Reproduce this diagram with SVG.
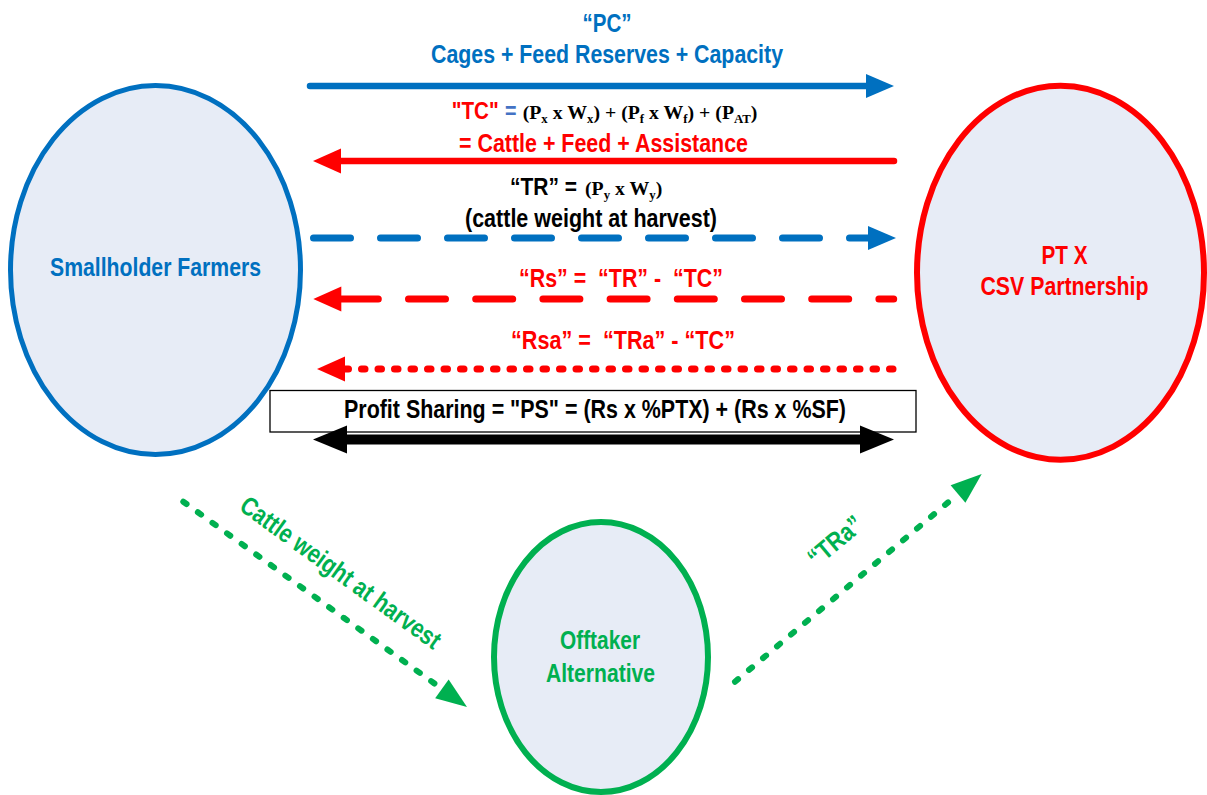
<svg xmlns="http://www.w3.org/2000/svg" width="1207" height="795" viewBox="0 0 1207 795">
  <style>
    .node { fill: #E7ECF6; }
    .t { font-family: "Liberation Sans Narrow", "Liberation Sans", Arial, sans-serif; font-weight: bold; font-size: 26px; }
    .ts { font-size: 23px; }
    .tm { font-family: "Liberation Serif", "Times New Roman", serif; font-weight: bold; font-size: 19.8px; fill: #000; }
    .blue { fill: #0070C0; }
    .red { fill: #FF0000; }
    .green { fill: #00B050; }
    .black { fill: #000000; }
    .conn { fill: none; stroke-linecap: round; }
  </style>
  <defs>
    <marker id="hBlue" markerUnits="userSpaceOnUse" markerWidth="40" markerHeight="40" refX="0" refY="0" orient="auto" overflow="visible">
      <path d="M0,-12 L28,0 L0,12 z" fill="#0070C0"/>
    </marker>
    <marker id="hRed" markerUnits="userSpaceOnUse" markerWidth="40" markerHeight="40" refX="0" refY="0" orient="auto-start-reverse" overflow="visible">
      <path d="M0,-12.5 L28,0 L0,12.5 z" fill="#FF0000"/>
    </marker>
    <marker id="hBlack" markerUnits="userSpaceOnUse" markerWidth="40" markerHeight="40" refX="0" refY="0" orient="auto-start-reverse" overflow="visible">
      <path d="M0,-14 L34,0 L0,14 z" fill="#000000"/>
    </marker>
    <marker id="hGreen" markerUnits="userSpaceOnUse" markerWidth="40" markerHeight="40" refX="0" refY="0" orient="auto" overflow="visible">
      <path d="M0,-11.5 L31,0 L0,11.5 z" fill="#00B050"/>
    </marker>
  </defs>

  <rect width="1207" height="795" fill="#FFFFFF"/>

  <g id="node-smallholder-farmers">
    <ellipse class="node" cx="155.5" cy="270" rx="145" ry="184.5" stroke="#0070C0" stroke-width="5"/>
    <text class="t blue" x="155.5" y="276" text-anchor="middle" textLength="211" lengthAdjust="spacingAndGlyphs">Smallholder Farmers</text>
  </g>

  <g id="node-ptx-csv">
    <ellipse class="node" cx="1060.5" cy="272.7" rx="143.5" ry="187" stroke="#FF0000" stroke-width="6"/>
    <text class="t red" x="1064.5" y="264" text-anchor="middle" textLength="46" lengthAdjust="spacingAndGlyphs">PT X</text>
    <text class="t red" x="1064.5" y="295" text-anchor="middle" textLength="168" lengthAdjust="spacingAndGlyphs">CSV Partnership</text>
  </g>

  <g id="node-offtaker">
    <ellipse class="node" cx="601" cy="657" rx="107" ry="135" stroke="#00B050" stroke-width="6"/>
    <text class="t green" x="600" y="649" text-anchor="middle" textLength="80" lengthAdjust="spacingAndGlyphs">Offtaker</text>
    <text class="t green" x="600.5" y="681.7" text-anchor="middle" textLength="109" lengthAdjust="spacingAndGlyphs">Alternative</text>
  </g>

  <g id="node-profit-sharing">
    <rect x="270" y="390.5" width="646" height="41.5" fill="#FFFFFF" stroke="#000000" stroke-width="1.3"/>
    <text class="t black" x="344" y="418" textLength="502" lengthAdjust="spacingAndGlyphs">Profit Sharing = "PS" = (Rs x %PTX) + (Rs x %SF)</text>
  </g>

  <g id="connectors">
    <path class="conn" d="M310,86 H866" stroke="#0070C0" stroke-width="6.5" marker-end="url(#hBlue)"/>
    <path class="conn" d="M341,161 H894" stroke="#FF0000" stroke-width="6.5" marker-start="url(#hRed)"/>
    <path class="conn" d="M313.5,238 H868" stroke="#0070C0" stroke-width="7" stroke-dasharray="37 30" marker-end="url(#hBlue)"/>
    <path class="conn" d="M341.3,299 H893.7" stroke="#FF0000" stroke-width="7" stroke-dasharray="37 30.2" marker-start="url(#hRed)"/>
    <path class="conn" d="M345,369 H893" stroke="#FF0000" stroke-width="7" stroke-dasharray="3.5 13" marker-start="url(#hRed)"/>
    <path d="M347,439.5 H860" stroke="#000000" stroke-width="10" fill="none" marker-start="url(#hBlack)" marker-end="url(#hBlack)"/>
    <path class="conn" d="M183.3,501.7 L441.9,688.9" stroke="#00B050" stroke-width="6" stroke-dasharray="4 14" marker-end="url(#hGreen)"/>
    <path class="conn" d="M735,681.7 L958,494" stroke="#00B050" stroke-width="6" stroke-dasharray="4 14.3" marker-end="url(#hGreen)"/>
  </g>

  <g id="labels">
    <text class="t blue" x="607" y="32" text-anchor="middle" textLength="49" lengthAdjust="spacingAndGlyphs">“PC”</text>
    <text class="t blue" x="607" y="62.5" text-anchor="middle" textLength="352" lengthAdjust="spacingAndGlyphs">Cages + Feed Reserves + Capacity</text>

    <text y="119"><tspan class="t ts red" x="451.7" textLength="47" lengthAdjust="spacingAndGlyphs">"TC"</tspan><tspan class="t ts" x="505" fill="#4472C4" textLength="11.5" lengthAdjust="spacingAndGlyphs">=</tspan><tspan class="tm" x="522.7">(P<tspan dy="4" font-size="12.8">x</tspan><tspan dy="-4"> x W</tspan><tspan dy="4" font-size="12.8">x</tspan><tspan dy="-4">) + (P</tspan><tspan dy="4" font-size="12.8">f</tspan><tspan dy="-4"> x W</tspan><tspan dy="4" font-size="12.8">f</tspan><tspan dy="-4">) + (P</tspan><tspan dy="4" font-size="12.8">AT</tspan><tspan dy="-4">)</tspan></tspan></text>
    <text class="t red" x="459" y="152" textLength="289" lengthAdjust="spacingAndGlyphs">= Cattle + Feed + Assistance</text>

    <text y="195"><tspan class="t ts black" x="510" textLength="67" lengthAdjust="spacingAndGlyphs">“TR” =</tspan><tspan class="tm" x="585">(P<tspan dy="4" font-size="12.8">y</tspan><tspan dy="-4"> x W</tspan><tspan dy="4" font-size="12.8">y</tspan><tspan dy="-4">)</tspan></tspan></text>
    <text class="t black" x="465" y="227" textLength="252" lengthAdjust="spacingAndGlyphs">(cattle weight at harvest)</text>

    <text class="t red" x="519" y="287" textLength="204" lengthAdjust="spacingAndGlyphs" xml:space="preserve">“Rs” =  “TR” -  “TC”</text>
    <text class="t red" x="511" y="349" textLength="224" lengthAdjust="spacingAndGlyphs" xml:space="preserve">“Rsa” =  “TRa” - “TC”</text>

    <text class="t green" transform="translate(340.3,573.3) rotate(35.8)" x="0" y="8" text-anchor="middle" textLength="241" lengthAdjust="spacingAndGlyphs">Cattle weight at harvest</text>
    <text class="t green" transform="translate(835.7,541.7) rotate(-40)" x="0" y="8" text-anchor="middle" textLength="63" lengthAdjust="spacingAndGlyphs">“TRa”</text>
  </g>
</svg>
